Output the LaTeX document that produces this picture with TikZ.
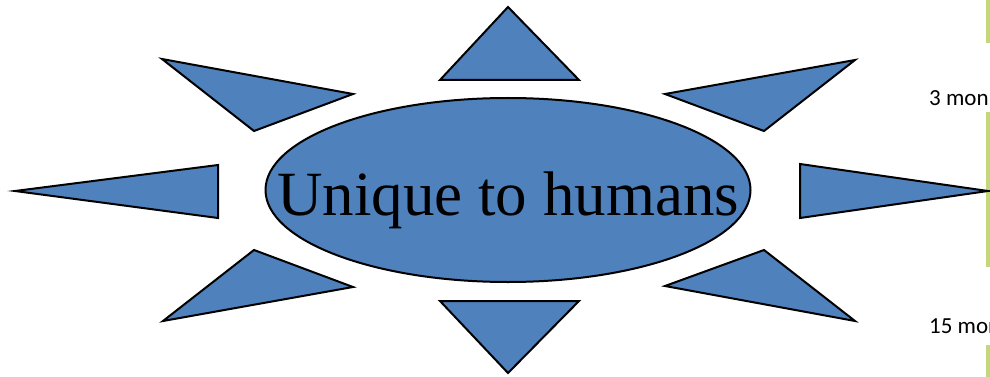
\documentclass[tikz,border=0pt]{standalone}
\usepackage{fontspec}
\setmainfont{Liberation Serif}
\newfontfamily\notefont{Carlito}
\usetikzlibrary{shapes.geometric}
\definecolor{rayblue}{RGB}{79,129,189}
\definecolor{bargreen}{RGB}{196,215,122}

\begin{document}
\begin{tikzpicture}[x=1pt, y=-1pt,
  ray/.style={draw, line width=2pt, fill=rayblue, line join=miter},
  hub/.style={ellipse, draw, line width=2pt, fill=rayblue, minimum width=485pt, minimum height=184pt, inner sep=0pt},
  bar/.style={fill=bargreen},
  note/.style={font=\notefont\fontsize{23}{23}\selectfont, anchor=base west, inner sep=0pt}]
\useasboundingbox (0,0) rectangle (990,377);
\begin{scope}
\clip (0,0) rectangle (990,377);
% timeline strip cut off at the right edge
\fill[bar] (986,0) rectangle (992,43);
\fill[bar] (986,112) rectangle (992,267);
\fill[bar] (986,345) rectangle (992,377);
\node[note] (three) at (929,106) {3 mon};
\node[note] (fifteen) at (929,333) {15 mon};
\end{scope}
% rays
\draw[ray] (508,7) -- (440,80) -- (579,80) -- cycle;
\draw[ray] (508,373) -- (440,301) -- (579,301) -- cycle;
\draw[ray] (15,191) -- (218,165) -- (218,218) -- cycle;
\draw[ray] (988,191) -- (800,164) -- (800,218) -- cycle;
\draw[ray] (162,59) -- (353,94) -- (254,131) -- cycle;
\draw[ray] (855,60) -- (665,94) -- (764,131) -- cycle;
\draw[ray] (163,321) -- (254,250) -- (353,287) -- cycle;
\draw[ray] (855,321) -- (764,250) -- (665,286) -- cycle;
% centre
\node[hub] (core) at (508,190) {};
\node[font=\fontsize{63}{63}\selectfont, anchor=base, inner sep=0pt] (title) at (508,215) {Unique to humans};
\end{tikzpicture}
\end{document}
